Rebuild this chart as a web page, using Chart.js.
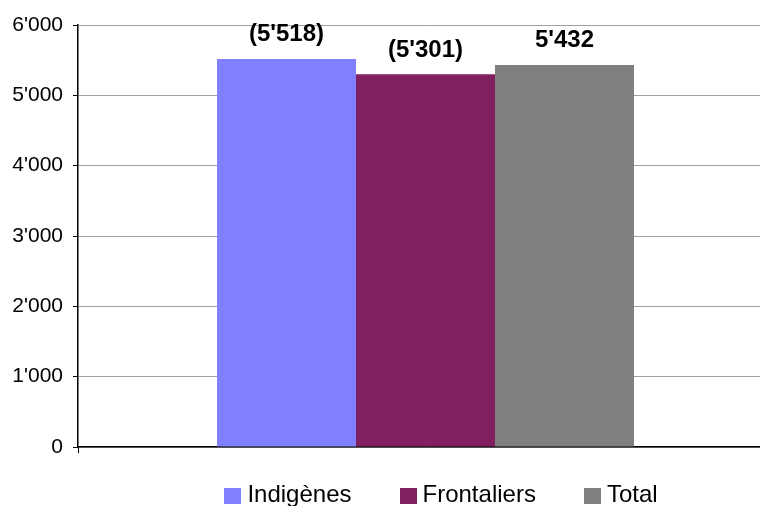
<!DOCTYPE html>
<html>
<head>
<meta charset="utf-8">
<script src="https://cdn.jsdelivr.net/npm/chart.js@4.4.1/dist/chart.umd.min.js"></script>
<style>
  html, body { margin: 0; padding: 0; background: #fff; overflow: hidden; }
  #wrap { position: relative; width: 780px; height: 506px; }
</style>
</head>
<body>
<div id="wrap"><canvas id="c"></canvas></div>
<script>
// ---- data ----
const categories = [''];
const seriesNames = ['Indigènes', 'Frontaliers', 'Total'];
const indigenes = [5518];
const frontaliers = [5301];
const total = [5432];
const valueLabels = ["(5'518)", "(5'301)", "5'432"];
const yTickValues = [0, 1000, 2000, 3000, 4000, 5000, 6000];
const yTickLabels = ["0", "1'000", "2'000", "3'000", "4'000", "5'000", "6'000"];
const colors = ['#8080FF', '#802060', '#808080'];

const FONT = '"Liberation Sans", Arial, Helvetica, sans-serif';

function makeSwatch(color) {
  const c = document.createElement('canvas');
  c.width = 17; c.height = 16;
  const x = c.getContext('2d');
  x.fillStyle = color;
  x.fillRect(0, 0, 17, 16);
  return c;
}
const swatches = colors.map(makeSwatch);

const barLabelPlugin = {
  id: 'barLabels',
  afterDatasetsDraw(chart) {
    const ctx = chart.ctx;
    ctx.save();
    ctx.font = 'bold 24px ' + FONT;
    ctx.fillStyle = '#000';
    ctx.textAlign = 'center';
    ctx.textBaseline = 'alphabetic';
    chart.data.datasets.forEach((ds, i) => {
      const el = chart.getDatasetMeta(i).data[0];
      if (el) ctx.fillText(valueLabels[i], el.x, el.y - 17.5);
    });
    ctx.restore();
  }
};

const legendPlace = {
  id: 'legendPlace',
  afterLayout(chart) {
    const lg = chart.legend;
    if (!lg) return;
    lg.left = 0;
    lg.right = 888;
    lg.top = 429.5;
    lg.bottom = 520;
  }
};

new Chart(document.getElementById('c'), {
  type: 'bar',
  data: {
    labels: categories,
    datasets: [
      { label: seriesNames[0], data: indigenes, backgroundColor: colors[0] },
      { label: seriesNames[1], data: frontaliers, backgroundColor: colors[1] },
      { label: seriesNames[2], data: total, backgroundColor: colors[2] }
    ]
  },
  options: {
    responsive: true,
    maintainAspectRatio: false,
    devicePixelRatio: 1,
    animation: false,
    datasets: { bar: { categoryPercentage: 0.6, barPercentage: 1.0, borderWidth: 0 } },
    layout: { padding: { top: 25, right: 7, left: 0, bottom: 0 } },
    plugins: {
      tooltip: { enabled: false },
      legend: {
        position: 'bottom',
        maxHeight: 53,
        labels: {
          usePointStyle: true,
          pointStyleWidth: 5,
          padding: 54,
          color: '#000',
          font: { family: FONT, size: 24 },
          generateLabels(chart) {
            const items = Chart.defaults.plugins.legend.labels.generateLabels(chart);
            items.forEach((it, i) => { it.pointStyle = swatches[i]; });
            return items;
          }
        }
      }
    },
    scales: {
      x: {
        type: 'category',
        offset: true,
        grid: { display: true, drawOnChartArea: false, drawTicks: true, tickLength: 6, tickColor: '#000', offset: true },
        border: { display: true, color: '#000', width: 1.5 },
        ticks: { display: false }
      },
      y: {
        min: 0,
        max: 6000,
        afterFit(scale) { scale.width = 78; },
        afterBuildTicks(scale) { scale.ticks = yTickValues.map(v => ({ value: v })); },
        grid: { color: '#a0a0a0', lineWidth: 1, tickLength: 5, tickColor: '#000' },
        border: { display: true, color: '#000', width: 1.5 },
        ticks: {
          padding: 10,
          color: '#000',
          font: { family: FONT, size: 21 },
          callback(value, index) { return yTickLabels[yTickValues.indexOf(value)]; }
        }
      }
    }
  },
  plugins: [barLabelPlugin, legendPlace]
});
</script>
</body>
</html>
